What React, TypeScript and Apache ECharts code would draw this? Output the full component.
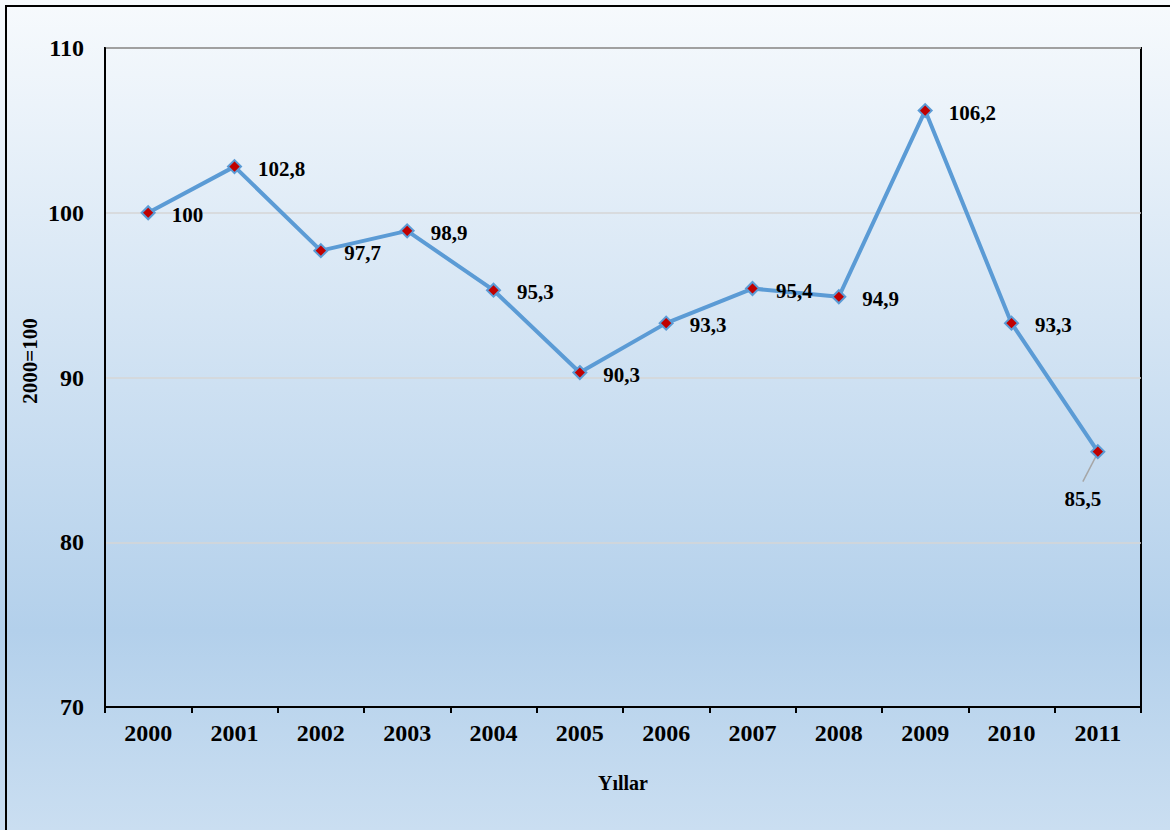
import React, { useEffect, useRef } from "react";
import * as echarts from "echarts";

// Index values (2000 = 100) per year
const years: string[] = ["2000", "2001", "2002", "2003", "2004", "2005", "2006", "2007", "2008", "2009", "2010", "2011"];
const indexValues: number[] = [100, 102.8, 97.7, 98.9, 95.3, 90.3, 93.3, 95.4, 94.9, 106.2, 93.3, 85.5];

// Value axis range and step
const yMin = 70;
const yMax = 110;
const yStep = 10;

const yAxisTitle = "2000=100";
const xAxisTitle = "Yıllar";

const SERIF = '"Liberation Serif", "Times New Roman", serif';

function fmt(v: number): string {
  return String(v).replace(".", ",");
}

export default function App() {
  const ref = useRef<HTMLDivElement>(null);

  useEffect(() => {
    if (!ref.current) return;
    const chart = echarts.init(ref.current, undefined, { renderer: "svg" });
    const last = indexValues.length - 1;

    const baseGraphics: any[] = [
      {
        id: "frame",
        type: "rect",
        silent: true,
        shape: { x: 6, y: 6, width: 1300, height: 1000 },
        style: { fill: "none", stroke: "#000", lineWidth: 2 },
      },
      {
        id: "ytitle",
        type: "text",
        silent: true,
        x: 30,
        y: 361,
        rotation: Math.PI / 2,
        style: {
          text: yAxisTitle,
          font: `bold 21px ${SERIF}`,
          fill: "#000",
          textAlign: "center",
          textVerticalAlign: "middle",
        },
      },
    ];

    chart.setOption({
      animation: false,
      backgroundColor: new echarts.graphic.LinearGradient(0, 0, 0, 1, [
        { offset: 0, color: "#f7fafd" },
        { offset: 0.76, color: "#b3d0eb" },
        { offset: 1, color: "#cadef1" },
      ]),
      textStyle: { fontFamily: SERIF },
      grid: {
        left: 105,
        top: 48,
        right: 29,
        bottom: 123,
        show: true,
        borderColor: "#000",
        borderWidth: 2,
        backgroundColor: "transparent",
        containLabel: false,
      },
      graphic: baseGraphics,
      xAxis: {
        type: "category",
        data: years,
        boundaryGap: true,
        name: xAxisTitle,
        nameLocation: "middle",
        nameGap: 66,
        nameTextStyle: { fontFamily: SERIF, fontWeight: "bold", fontSize: 20, color: "#000" },
        axisLine: { show: true, lineStyle: { color: "#000", width: 2 } },
        axisTick: { show: true, length: 6, lineStyle: { color: "#000", width: 2 } },
        axisLabel: { fontFamily: SERIF, fontWeight: "bold", fontSize: 24, color: "#000", margin: 14 },
        splitLine: { show: false },
      },
      yAxis: {
        type: "value",
        min: yMin,
        max: yMax,
        interval: yStep,
        axisLine: { show: true, lineStyle: { color: "#000", width: 2 } },
        axisTick: { show: false },
        axisLabel: { fontFamily: SERIF, fontWeight: "bold", fontSize: 24, color: "#000", margin: 21 },
        splitLine: { show: true, lineStyle: { color: "#d6d6d6", width: 1.5 } },
      },
      series: [
        {
          type: "line",
          data: indexValues.map((v, i) =>
            i === last
              ? { value: v, label: { position: "bottom", distance: 29, offset: [-15, 0] } }
              : v
          ),
          lineStyle: { color: "#5b9bd5", width: 4 },
          symbol: "diamond",
          symbolSize: 13,
          itemStyle: { color: "#c00000", borderColor: "#5b9bd5", borderWidth: 2 },
          label: {
            show: true,
            position: "right",
            distance: 16,
            offset: [0, 2],
            formatter: (p: any) => fmt(p.value),
            fontFamily: SERIF,
            fontWeight: "bold",
            fontSize: 21,
            color: "#000",
          },
          z: 3,
        },
      ],
    });

    // Leader line from the last point to its displaced label
    const [px, py] = chart.convertToPixel({ seriesIndex: 0 }, [last, indexValues[last]]) as number[];
    chart.setOption({
      graphic: [
        ...baseGraphics,
        {
          id: "leader",
          type: "line",
          silent: true,
          z: 2,
          shape: { x1: px - 1, y1: py + 3, x2: px - 15, y2: py + 30 },
          style: { stroke: "#a6a6a6", lineWidth: 1.5 },
        },
      ],
    });

    return () => chart.dispose();
  }, []);

  return (
    <div
      ref={ref}
      style={{ position: "fixed", left: 0, top: 0, width: 1170, height: 830 }}
    />
  );
}
